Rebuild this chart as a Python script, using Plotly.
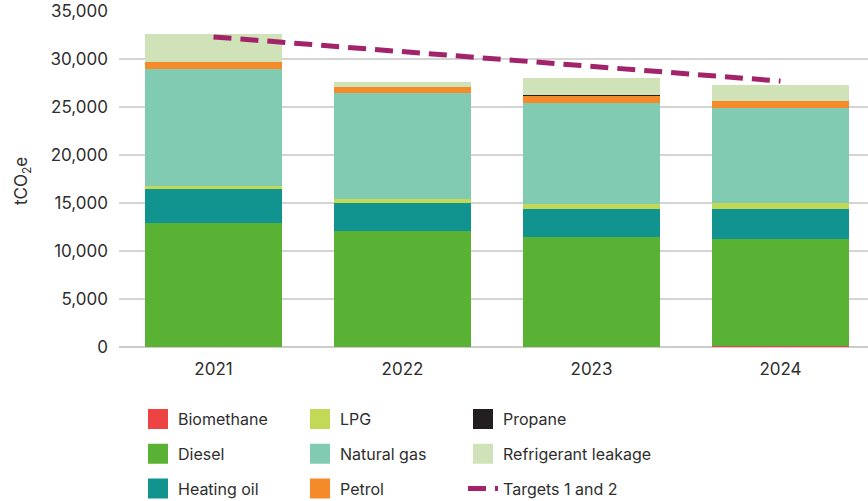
import plotly.graph_objects as go

years = ['2021', '2022', '2023', '2024']

biomethane = [0, 0, 0, 100]
diesel = [12950, 12110, 11480, 11170]
heating_oil = [3540, 2920, 2930, 3140]
lpg = [320, 420, 520, 620]
natural_gas = [12110, 10960, 10510, 9820]
petrol = [730, 630, 710, 730]
propane = [0, 0, 60, 0]
refrigerant = [2950, 520, 1770, 1670]

targets = [32300, 30800, 29250, 27700]

FONT = 'Inter'
TEXT = '#2e2e2e'

# name, values, colour, legend column
series = [
    ('Biomethane', biomethane, '#ee4343', 'legend'),
    ('Diesel', diesel, '#59b233', 'legend'),
    ('Heating oil', heating_oil, '#11938f', 'legend'),
    ('LPG', lpg, '#c2d955', 'legend2'),
    ('Natural gas', natural_gas, '#82cbb3', 'legend2'),
    ('Petrol', petrol, '#f58a2b', 'legend2'),
    ('Propane', propane, '#231f20', 'legend3'),
    ('Refrigerant leakage', refrigerant, '#d0e3b8', 'legend3'),
]

fig = go.Figure()

for name, vals, color, leg in series:
    fig.add_trace(go.Bar(x=years, y=vals, name=name, marker_color=color,
                         marker_line_width=0, legendgroup=name, showlegend=False))
    # legend-only entry so the swatch can be a bigger square
    fig.add_trace(go.Scatter(x=years[:1], y=[None], name=name, mode='markers', legend=leg,
                             legendgroup=name, hoverinfo='skip',
                             marker=dict(symbol='square', size=16, color=color,
                                         line=dict(color=color, width=4))))

fig.add_trace(go.Scatter(x=years, y=targets, name='Targets 1 and 2', mode='lines',
                         legend='legend3', legendgroup='targets',
                         line=dict(color='#a3236b', width=5, dash='18px,9px')))

leg_common = dict(yref='container', xref='container', y=1 - 402 / 501, yanchor='top',
                  xanchor='left', traceorder='grouped', tracegroupgap=11,
                  font=dict(family=FONT, size=16, color=TEXT), bgcolor='rgba(0,0,0,0)',
                  itemwidth=30)

fig.update_layout(
    width=868, height=501,
    barmode='stack',
    bargap=0.28,
    plot_bgcolor='white',
    paper_bgcolor='white',
    margin=dict(l=119, r=0, t=11, b=154, autoexpand=False),
    font=dict(family=FONT, size=16, color=TEXT),
    legend=dict(x=138 / 868, **leg_common),
    legend2=dict(x=300 / 868, **leg_common),
    legend3=dict(x=463 / 868, **leg_common),
    annotations=[dict(text='tCO<sub>2</sub>e', textangle=-90, xref='paper', yref='paper',
                      x=0, y=0.5, xanchor='center', yanchor='middle', xshift=-97, yshift=-2,
                      showarrow=False, font=dict(family=FONT, size=17, color=TEXT))],
)

# last bar runs a little past the right edge in the original
fig.update_xaxes(type='category', range=[-0.5, 3.463], showgrid=False, showline=False,
                 ticks='', ticklabelstandoff=10, tickfont=dict(size=17, color=TEXT))
fig.update_yaxes(range=[0, 35000], dtick=5000, tickformat=',', showgrid=True,
                 gridcolor='#d4d4d4', gridwidth=2, zeroline=True, zerolinecolor='#cccccc',
                 zerolinewidth=2, ticks='', ticklabelstandoff=10,
                 tickfont=dict(size=17, color=TEXT))

fig.write_html('out.html', config={'displayModeBar': False},
               post_script="document.body.style.margin='0';")
